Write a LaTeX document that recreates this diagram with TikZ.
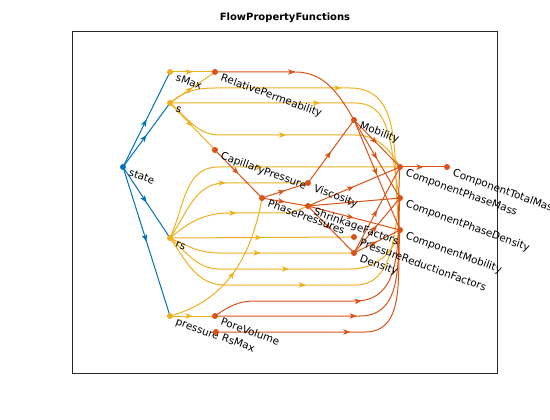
\documentclass[tikz,border=0pt]{standalone}
\usepackage{fontspec}
\newfontfamily\graphfont{DejaVu Sans}
\usetikzlibrary{arrows.meta, decorations.markings, calc}

\definecolor{mblue}{HTML}{0072BD}
\definecolor{myellow}{HTML}{EDB120}
\definecolor{morange}{HTML}{D95319}

\begin{document}
\begin{tikzpicture}
    [
        x=1pt, y=-1pt,
        dot/.style={circle, fill, inner sep=0pt, minimum size=6pt},
        lbl/.style={anchor=base west, rotate=-20, inner sep=0pt,
            font=\graphfont\fontsize{10.4}{12}\selectfont},
        edge/.style={line width=1pt, postaction={decorate},
            decoration={markings, mark=at position 0.5 with
                {\arrow{Stealth[length=7pt, width=5.5pt, inset=1.8pt]}}}}
    ]
        \useasboundingbox (0,0) rectangle (550,420);
        % =========================================================================
        % AXES
        % =========================================================================
        \draw [black!85, line width=0.6pt] (72,31) rectangle (497,373);
        \node [font=\graphfont\bfseries\fontsize{10}{12}\selectfont] (title) at (285,18) {FlowPropertyFunctions};

        % =========================================================================
        % NODES
        % =========================================================================
        % --- Layer 1 ---
        \coordinate (state) at (123,167);
        % --- Layer 2 ---
        \coordinate (sMax) at (170,72);
        \coordinate (s) at (170,103);
        \coordinate (rs) at (170,238);
        \coordinate (pressure) at (170,316);
        % --- Layer 3 ---
        \coordinate (relperm) at (215,72);
        \coordinate (capp) at (215,150);
        \coordinate (porevol) at (215,316);
        \coordinate (rsmax) at (216,332);
        % --- Layer 4 ---
        \coordinate (phasep) at (262,198);
        % --- Layer 5 ---
        \coordinate (visc) at (308,183);
        \coordinate (shrink) at (308,206);
        % --- Layer 6 ---
        \coordinate (mob) at (354,120);
        \coordinate (prf) at (354,237);
        \coordinate (dens) at (354,253);
        % --- Layer 7 ---
        \coordinate (cpmass) at (400,167);
        \coordinate (cpdens) at (400,198);
        \coordinate (cmob) at (400,230);
        % --- Layer 8 ---
        \coordinate (ctmass) at (447,167);

        % =========================================================================
        % PATHS
        % =========================================================================
        % --- state ---
        \draw [edge, mblue] (state) -- (sMax);
        \draw [edge, mblue] (state) -- (s);
        \draw [edge, mblue] (state) -- (rs);
        \draw [edge, mblue] (state) -- (pressure);
        % --- sMax, s ---
        \draw [edge, myellow] (sMax) -- (relperm);
        \draw [edge, myellow] (s) -- (relperm);
        \draw [edge, myellow] (s) -- (capp);
        \draw [edge, myellow] (s) to[out=40, in=180] (215,88) -- (350,88) to[out=0, in=100] (cmob);
        \draw [edge, myellow] (s) -- (355,103) to[out=0, in=105] (cpdens);
        \draw [edge, myellow] (s) to[out=-40, in=180] (220,135) -- (355,135) to[out=0, in=120] (cpmass);
        % --- rs ---
        \draw [edge, myellow] (rs) to[out=65, in=180] (218,167) -- (cpmass);
        \draw [edge, myellow] (rs) to[out=55, in=180] (225,183) -- (visc);
        \draw [edge, myellow] (rs) to[out=40, in=180] (230,213) -- (285,213) to[out=0, in=200] (shrink);
        \draw [edge, myellow] (rs) -- (prf);
        \draw [edge, myellow] (rs) to[out=-25, in=180] (220,253) -- (dens);
        \draw [edge, myellow] (rs) to[out=-40, in=180] (220,269) -- (350,269) to[out=0, in=-105] (cmob);
        \draw [edge, myellow] (rs) to[out=-55, in=180] (225,285) -- (355,285) to[out=0, in=-100] (cpdens);
        % --- pressure ---
        \draw [edge, myellow] (pressure) -- (porevol);
        \draw [edge, myellow] (pressure) to[out=15, in=-100] (phasep);
        % --- layer 3 ---
        \draw [edge, morange] (relperm) -- (295,72) to[out=0, in=120] (mob);
        \draw [edge, morange] (capp) -- (phasep);
        \draw [edge, morange] (porevol) to[out=35, in=180] (255,301) -- (355,301) to[out=0, in=-95] (cpmass);
        \draw [edge, morange] (porevol) -- (360,316) to[out=0, in=-95] (cpdens);
        \draw [edge, morange] (rsmax) -- (365,332) to[out=0, in=-95] (cmob);
        % --- layer 4, 5 ---
        \draw [edge, morange] (phasep) -- (visc);
        \draw [edge, morange] (phasep) -- (shrink);
        \draw [edge, morange] (visc) -- (mob);
        \draw [edge, morange] (shrink) -- (dens);
        \draw [edge, morange] (shrink) -- (cpmass);
        \draw [edge, morange] (shrink) -- (cpdens);
        \draw [edge, morange] (shrink) -- (cmob);
        % --- layer 6, 7 ---
        \draw [edge, morange] (mob) -- (cpmass);
        \draw [edge, morange] (mob) -- (cpdens);
        \draw [edge, morange] (mob) -- (cmob);
        \draw [edge, morange] (dens) -- (cpmass);
        \draw [edge, morange] (dens) -- (cpdens);
        \draw [edge, morange] (dens) -- (cmob);
        \draw [edge, morange] (cpmass) -- (ctmass);

        % =========================================================================
        % MARKERS AND LABELS
        % =========================================================================
        \node [dot, mblue] (state-d) at (state) {};
        \node [lbl] (state-l) at ($(state)+(5,8.5)$) {state};
        \node [dot, myellow] (sMax-d) at (sMax) {};
        \node [lbl] (sMax-l) at ($(sMax)+(5,8.5)$) {sMax};
        \node [dot, myellow] (s-d) at (s) {};
        \node [lbl] (s-l) at ($(s)+(5,8.5)$) {s};
        \node [dot, myellow] (rs-d) at (rs) {};
        \node [lbl] (rs-l) at ($(rs)+(5,8.5)$) {rs};
        \node [dot, myellow] (pressure-d) at (pressure) {};
        \node [lbl] (pressure-l) at ($(pressure)+(5,8.5)$) {pressure};
        \node [dot, morange] (relperm-d) at (relperm) {};
        \node [lbl] (relperm-l) at ($(relperm)+(5,8.5)$) {RelativePermeability};
        \node [dot, morange] (capp-d) at (capp) {};
        \node [lbl] (capp-l) at ($(capp)+(5,8.5)$) {CapillaryPressure};
        \node [dot, morange] (porevol-d) at (porevol) {};
        \node [lbl] (porevol-l) at ($(porevol)+(5,8.5)$) {PoreVolume};
        \node [dot, morange] (rsmax-d) at (rsmax) {};
        \node [lbl] (rsmax-l) at ($(rsmax)+(5,8.5)$) {RsMax};
        \node [dot, morange] (phasep-d) at (phasep) {};
        \node [lbl] (phasep-l) at ($(phasep)+(5,8.5)$) {PhasePressures};
        \node [dot, morange] (visc-d) at (visc) {};
        \node [lbl] (visc-l) at ($(visc)+(5,8.5)$) {Viscosity};
        \node [dot, morange] (shrink-d) at (shrink) {};
        \node [lbl] (shrink-l) at ($(shrink)+(5,8.5)$) {ShrinkageFactors};
        \node [dot, morange] (mob-d) at (mob) {};
        \node [lbl] (mob-l) at ($(mob)+(5,8.5)$) {Mobility};
        \node [dot, morange] (prf-d) at (prf) {};
        \node [lbl] (prf-l) at ($(prf)+(5,8.5)$) {PressureReductionFactors};
        \node [dot, morange] (dens-d) at (dens) {};
        \node [lbl] (dens-l) at ($(dens)+(5,8.5)$) {Density};
        \node [dot, morange] (cpmass-d) at (cpmass) {};
        \node [lbl] (cpmass-l) at ($(cpmass)+(5,8.5)$) {ComponentPhaseMass};
        \node [dot, morange] (cpdens-d) at (cpdens) {};
        \node [lbl] (cpdens-l) at ($(cpdens)+(5,8.5)$) {ComponentPhaseDensity};
        \node [dot, morange] (cmob-d) at (cmob) {};
        \node [lbl] (cmob-l) at ($(cmob)+(5,8.5)$) {ComponentMobility};
        \node [dot, morange] (ctmass-d) at (ctmass) {};
        \node [lbl] (ctmass-l) at ($(ctmass)+(5,8.5)$) {ComponentTotalMass};
    \end{tikzpicture}
\end{document}
